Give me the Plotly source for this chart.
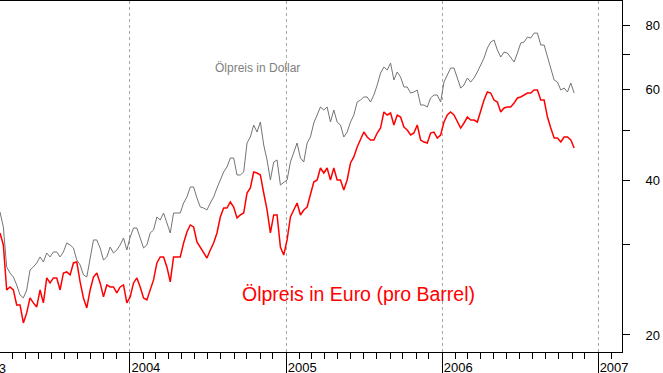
import math
import pandas as pd
import plotly.graph_objects as go

# ---- data ----
start_date = "2003-03-03"
end_date = "2006-11-06"
n_points = 173

oil_usd = [
    34.67, 32.42, 27.11, 26.39, 25.92, 25.01, 23.92, 23.60, 24.46, 26.75,
    27.11, 27.60, 28.35, 27.72, 28.86, 28.35, 28.99, 28.99, 28.35, 28.99,
    30.18, 29.91, 29.51, 27.97, 27.35, 26.16, 25.92, 28.22, 30.59, 30.59,
    29.51, 27.97, 28.35, 29.64, 28.86, 29.25, 29.91, 30.86, 29.25, 31.00,
    32.27, 32.27, 31.00, 29.51, 29.91, 31.56, 31.99, 33.90, 33.45, 34.51,
    33.00, 31.56, 34.51, 34.51, 34.51, 36.09, 37.08, 38.77, 38.77, 36.91,
    35.45, 35.29, 34.98, 36.09, 37.08, 38.60, 40.00, 41.46, 42.40, 44.14,
    44.14, 40.91, 40.91, 41.46, 47.20, 48.49, 51.16, 49.58, 51.85, 46.78,
    43.75, 40.00, 43.36, 43.75, 39.12, 39.64, 40.00, 43.36, 45.14, 47.20,
    44.14, 43.36, 47.20, 48.49, 51.62, 53.50, 55.45, 54.71, 55.45, 51.85,
    54.71, 51.85, 51.16, 48.49, 49.58, 51.85, 53.50, 56.70, 57.21, 57.99,
    57.99, 56.70, 58.51, 61.18, 64.55, 66.31, 65.43, 67.50, 62.57, 64.85,
    63.41, 60.64, 60.64,
    59.03, 59.30, 59.83, 55.95, 55.95, 55.45, 57.73, 58.51, 58.51, 56.70,
    62.01, 63.98, 66.01, 66.01, 63.12, 60.36, 61.18, 63.12, 62.01, 63.12,
    64.85, 66.91, 69.03, 72.19, 74.15, 74.82, 71.55, 69.34, 70.91, 70.59,
    69.34, 67.81, 70.59, 73.82, 74.15, 75.83, 75.49, 77.19, 77.19, 73.17,
    73.17, 69.34, 66.31, 62.57, 62.01, 59.83, 60.36, 59.30, 61.73, 59.03,
]

oil_eur = [
    31.56, 29.91, 24.46, 24.79, 24.46, 22.87, 22.87, 21.10, 22.07, 23.60,
    23.08, 22.67, 24.46, 23.08, 25.81, 25.24, 25.81, 25.81, 24.46, 26.39,
    26.51, 26.16, 27.60, 27.72, 25.35, 23.60, 22.57, 24.46, 25.92, 26.39,
    25.24, 23.71, 25.01, 24.79, 24.79, 24.13, 24.79, 25.01, 23.08, 23.71,
    25.24, 25.81, 24.79, 23.60, 23.39, 24.46, 25.58, 27.60, 28.35, 28.35,
    27.11, 25.35, 28.35, 28.35, 28.35, 30.18, 31.70, 32.71, 32.42, 30.32,
    29.64, 28.86, 28.22, 29.25, 30.18, 31.56, 33.90, 35.29, 35.29, 36.25,
    35.45, 33.75, 34.21, 34.51, 37.74, 38.60, 41.46, 41.27, 40.91, 37.74,
    34.98, 31.56, 34.21, 34.21, 29.64, 28.60, 30.59, 33.90, 34.98, 36.09,
    34.21, 34.98, 35.45, 37.41, 39.64, 40.00, 42.21, 41.27, 42.21, 40.00,
    42.21, 40.00, 40.00, 38.25, 40.00, 43.16, 44.34, 46.37, 47.84, 49.58,
    48.49, 47.84, 47.84, 49.36, 50.47, 54.22, 53.50, 53.98, 51.16, 53.50,
    53.02, 50.70, 50.03,
    48.92, 49.36, 51.16, 47.84, 47.41, 47.20, 49.36, 49.58, 48.26, 48.92,
    51.85, 53.50, 54.22, 53.50, 51.85, 50.47, 51.62, 53.02, 52.32, 52.32,
    51.85, 54.71, 57.21, 59.30, 59.03, 57.21, 56.70, 54.22, 55.20, 55.45,
    55.45, 56.44, 57.73, 57.99, 58.51, 59.03, 59.03, 59.83, 59.83, 57.21,
    57.21, 53.02, 50.47, 48.26, 48.26, 47.41, 48.49, 48.49, 47.84, 46.15,
]

year_ticks = ["2004-01-01", "2005-01-01", "2006-01-01", "2007-01-01"]
year_labels = ["2004", "2005", "2006", "2007"]
y_ticks = [20, 30, 40, 50, 60, 70, 80]
y_labels = ["20", "", "40", "", "60", "", "80"]

x_range = ["2003-03-03", "2007-02-26"]
y_range_vals = [18.53, 89.1]

dates = pd.date_range(start_date, end_date, periods=n_points)

fig = go.Figure()
fig.add_trace(go.Scatter(x=dates, y=oil_usd, mode="lines",
                         line=dict(color="#747474", width=1), showlegend=False))
fig.add_trace(go.Scatter(x=dates, y=oil_eur, mode="lines",
                         line=dict(color="#ff0000", width=1.5), showlegend=False))

font_family = "Liberation Sans, Arial, sans-serif"

fig.update_layout(
    width=663, height=373,
    margin=dict(l=0, r=41, t=1, b=21, autoexpand=False),
    paper_bgcolor="white", plot_bgcolor="white",
    font=dict(family=font_family, size=13, color="black"),
    xaxis=dict(
        type="date", range=x_range,
        tickmode="array", tickvals=year_ticks, ticktext=year_labels,
        ticks="outside", ticklen=21, tickwidth=1, tickcolor="black",
        showgrid=True, gridcolor="#a8a8a8", griddash="dot", gridwidth=1,
        showline=True, linecolor="black", linewidth=1, mirror=True,
        zeroline=False,
        minor=dict(dtick="M1", tick0="2003-01-01", ticks="outside", ticklen=6,
                   tickcolor="black", tickwidth=1, showgrid=False),
        ticklabelshift=16, ticklabelstandoff=-18,
        tickfont=dict(size=13, color="black", family=font_family),
    ),
    yaxis=dict(
        type="log", side="right",
        range=[math.log10(y_range_vals[0]), math.log10(y_range_vals[1])],
        tickmode="array", tickvals=y_ticks, ticktext=y_labels,
        ticks="outside", ticklen=7, tickwidth=1, tickcolor="black",
        showgrid=False, showline=True, linecolor="black", linewidth=1,
        zeroline=False, ticklabelstandoff=13,
        tickfont=dict(size=13, color="black", family=font_family),
    ),
)

# partially visible 2003 label at the left edge
t0 = pd.Timestamp(x_range[0]); t1 = pd.Timestamp(x_range[1])
frac_2003 = (pd.Timestamp("2003-01-01") - t0) / (t1 - t0)
fig.add_annotation(text="2003", xref="paper", yref="paper", x=frac_2003, y=0,
                   xanchor="left", yanchor="top", xshift=1, yshift=-7,
                   showarrow=False, font=dict(size=13, color="black", family=font_family))

fig.add_annotation(text="Ölpreis in Dollar", xref="paper", yref="paper",
                   x=0.414, y=0.808, xanchor="center", yanchor="middle",
                   showarrow=False, font=dict(size=12, color="#808080", family=font_family))
fig.add_annotation(text="Ölpreis in Euro (pro Barrel)", xref="paper", yref="paper",
                   x=0.576, y=0.165, xanchor="center", yanchor="middle",
                   showarrow=False, font=dict(size=19.5, color="#ff0000", family=font_family))

fig.write_html("out.html", config={"displayModeBar": False},
               post_script="document.body.style.margin='0';document.body.style.padding='0';")
